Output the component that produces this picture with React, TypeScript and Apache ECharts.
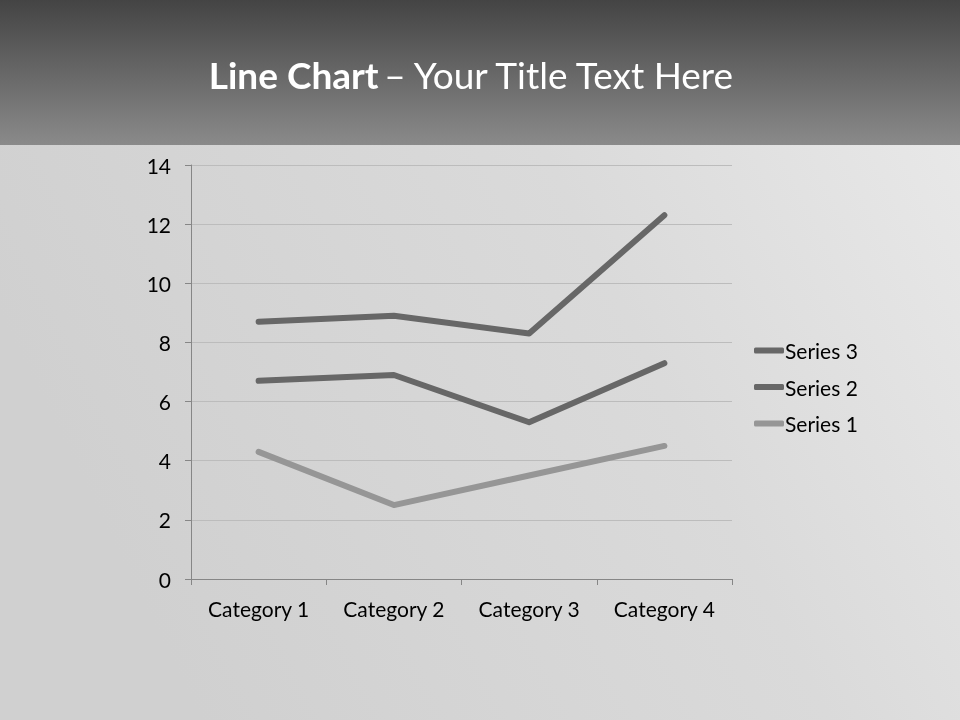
import React, { useEffect, useRef } from "react";
import * as echarts from "echarts";

const categories = ["Category 1", "Category 2", "Category 3", "Category 4"];
const series1 = [4.3, 2.5, 3.5, 4.5];
const series2 = [2.4, 4.4, 1.8, 2.8];
const series3 = [2, 2, 3, 5];
const yTicks = { min: 0, max: 14, interval: 2 };
const legendOrder = ["Series 3", "Series 2", "Series 1"];

const FONT = "Lato, 'Open Sans', sans-serif";

export default function App() {
  const ref = useRef<HTMLDivElement>(null);
  useEffect(() => {
    if (!ref.current) return;
    const chart = echarts.init(ref.current, null, { renderer: "svg" });
    const lineSeries = (name: string, data: number[], color: string) => ({
      name,
      type: "line",
      stack: "total",
      data,
      symbol: "none",
      color,
      lineStyle: { width: 6, color, cap: "round", join: "round" },
    });
    chart.setOption({
      animation: false,
      textStyle: { fontFamily: FONT },
      graphic: [
        {
          type: "rect",
          z: -10,
          shape: { x: 0, y: 145, width: 960, height: 575 },
          style: {
            fill: new echarts.graphic.LinearGradient(0, 0.3, 1, 0, [
              { offset: 0, color: "#d0d0d0" },
              { offset: 0.6, color: "#dadada" },
              { offset: 1, color: "#e8e8e8" },
            ]),
          },
          silent: true,
        },
        {
          type: "rect",
          z: -10,
          shape: { x: 0, y: 0, width: 960, height: 145 },
          style: {
            fill: new echarts.graphic.LinearGradient(0, 0, 0, 1, [
              { offset: 0, color: "#444444" },
              { offset: 1, color: "#8a8a8a" },
            ]),
          },
          silent: true,
        },
        {
          type: "text",
          x: 472,
          y: 74,
          style: {
            text: "{b|Line Chart} {n|– Your Title Text Here}",
            align: "center",
            verticalAlign: "middle",
            rich: {
              b: { fontFamily: FONT, fontSize: 37, fontWeight: "bold", fill: "#ffffff", color: "#ffffff" },
              n: { fontFamily: FONT, fontSize: 37, fontWeight: "normal", fill: "#ffffff", color: "#ffffff" },
            },
          },
        },
      ],
      grid: { left: 191, right: 228, top: 165, bottom: 141, containLabel: false },
      legend: {
        data: legendOrder,
        orient: "vertical",
        left: 749,
        top: 335,
        itemWidth: 30,
        itemHeight: 6,
        itemGap: 15.5,
        icon: "roundRect",
        textStyle: { fontFamily: FONT, fontSize: 21, color: "#000000", padding: [0, 0, 0, -4] },
      },
      xAxis: {
        type: "category",
        data: categories,
        boundaryGap: true,
        axisLine: { show: true, lineStyle: { color: "#868686", width: 1 } },
        axisTick: { show: true, interval: 0, length: 6, lineStyle: { color: "#868686" } },
        axisLabel: { fontFamily: FONT, fontSize: 21, color: "#000000", margin: 19, interval: 0 },
        splitLine: { show: false },
      },
      yAxis: {
        type: "value",
        min: yTicks.min,
        max: yTicks.max,
        interval: yTicks.interval,
        axisLine: { show: true, lineStyle: { color: "#868686", width: 1 } },
        axisTick: { show: true, length: 6, lineStyle: { color: "#868686" } },
        axisLabel: { fontFamily: FONT, fontSize: 21, color: "#000000", margin: 20 },
        splitLine: { show: true, lineStyle: { color: "#bcbcbc", width: 1 } },
      },
      series: [
        lineSeries("Series 1", series1, "#969696"),
        lineSeries("Series 2", series2, "#676767"),
        lineSeries("Series 3", series3, "#676767"),
      ],
    });
    return () => chart.dispose();
  }, []);
  return (
    <div
      ref={ref}
      style={{ position: "fixed", left: 0, top: 0, width: 960, height: 720 }}
    />
  );
}
